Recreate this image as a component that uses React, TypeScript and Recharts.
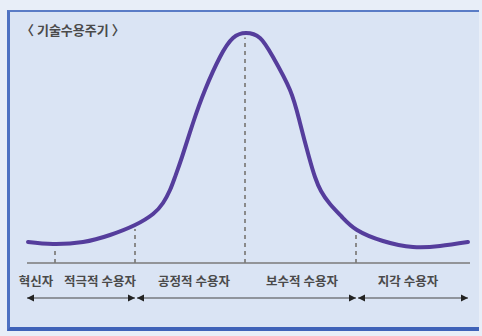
import {
  ComposedChart,
  Line,
  Scatter,
  XAxis,
  YAxis,
  ReferenceLine,
  ReferenceDot,
} from "recharts";

// curve (position along the adoption timeline, adopters)
const curveX = [28, 53, 83, 110, 135, 153, 163, 170, 175, 182, 193, 205, 220, 233, 246, 260, 273, 290, 300, 309, 315, 321, 330, 342, 357, 383, 413, 440, 468];
const curveY = [21, 19, 21, 28, 38, 49, 60, 73, 86, 106, 140, 173, 206, 225, 230, 225, 206, 173, 140, 106, 86, 72, 59, 46, 33, 22, 16, 17, 21];

// dashed dividers between adopter groups
const dividerX = [55, 135, 245, 356];

// group labels along the bottom
const groupNames = ["혁신자", "적극적 수용자", "공정적 수용자", "보수적 수용자", "지각 수용자"];
const groupCenters = [36, 100, 194, 302, 408];

// double-headed arrow spans under the labels
const arrowFrom = [27, 137, 358];
const arrowTo = [135, 356, 468];

const BASE_START = 27;
const BASE_END = 470;
const LABEL_Y = -19;
const ARROW_Y = -35;

const curve = curveX.map((x, i) => ({ x, y: curveY[i] }));

function curveAt(x: number) {
  for (let i = 0; i < curve.length - 1; i++) {
    const a = curve[i];
    const b = curve[i + 1];
    if (x >= a.x && x <= b.x) {
      return a.y + ((b.y - a.y) * (x - a.x)) / (b.x - a.x);
    }
  }
  return 0;
}

const heads = arrowFrom.flatMap((from, i) => [
  { x: from, y: ARROW_Y, dir: -1 },
  { x: arrowTo[i], y: ARROW_Y, dir: 1 },
]);

const ArrowHead = (props: any) => {
  const { cx, cy, payload } = props;
  const d = payload.dir;
  const len = 7;
  const half = 3.5;
  const pts = `${cx},${cy} ${cx - d * len},${cy - half} ${cx - d * len},${cy + half}`;
  return <polygon points={pts} fill="#222" />;
};

export default function App() {
  return (
    <div
      style={{
        position: "fixed",
        left: 0,
        top: 0,
        width: 482,
        height: 336,
        background: "#e8eef8",
        overflow: "hidden",
        fontFamily: "'Noto Sans CJK KR', sans-serif",
      }}
    >
      <div
        style={{
          position: "absolute",
          left: 7,
          top: 10,
          width: 472,
          height: 321,
          background: "#dae4f4",
          borderTop: "2px solid #5a7cc6",
          borderLeft: "3px solid #4f72c2",
          borderBottom: "4px solid #3f62b8",
          boxSizing: "border-box",
        }}
      />
      <div
        style={{
          position: "absolute",
          left: 21,
          top: 20,
          fontSize: 13,
          fontWeight: 700,
          color: "#4a4a4a",
          whiteSpace: "pre",
        }}
      >
        〈 기술수용주기 〉
      </div>
      <div style={{ position: "absolute", left: 0, top: 0 }}>
        <ComposedChart
          width={482}
          height={336}
          margin={{ top: 0, right: 0, bottom: 0, left: 0 }}
        >
          <XAxis type="number" dataKey="x" domain={[0, 482]} hide allowDataOverflow />
          <YAxis type="number" dataKey="y" domain={[-73, 263]} hide allowDataOverflow />

          {dividerX.map((x) => (
            <ReferenceLine
              key={`div-${x}`}
              segment={[
                { x, y: 0 },
                { x, y: curveAt(x) - 4 },
              ]}
              stroke="#8a8a8a"
              strokeWidth={2}
              strokeDasharray="4 4"
              ifOverflow="visible"
            />
          ))}

          <ReferenceLine
            segment={[
              { x: BASE_START, y: 0 },
              { x: BASE_END, y: 0 },
            ]}
            stroke="#7a7a7a"
            strokeWidth={1.5}
            ifOverflow="visible"
          />

          {arrowFrom.map((from, i) => (
            <ReferenceLine
              key={`arrow-${i}`}
              segment={[
                { x: from, y: ARROW_Y },
                { x: arrowTo[i], y: ARROW_Y },
              ]}
              stroke="#444"
              strokeWidth={1}
              ifOverflow="visible"
            />
          ))}

          <Scatter data={heads} shape={ArrowHead} isAnimationActive={false} />

          {groupNames.map((name, i) => (
            <ReferenceDot
              key={name}
              x={groupCenters[i]}
              y={LABEL_Y}
              r={0}
              stroke="none"
              fill="none"
              ifOverflow="visible"
              label={{
                value: name,
                position: "center",
                fontSize: 12.5,
                fontWeight: 700,
                fill: "#4a4a4a",
                fontFamily: "'Noto Sans CJK KR', sans-serif",
              }}
            />
          ))}

          <Line
            data={curve}
            dataKey="y"
            type="natural"
            stroke="#553d9c"
            strokeWidth={4}
            strokeLinecap="round"
            dot={false}
            activeDot={false}
            isAnimationActive={false}
          />
        </ComposedChart>
      </div>
    </div>
  );
}
